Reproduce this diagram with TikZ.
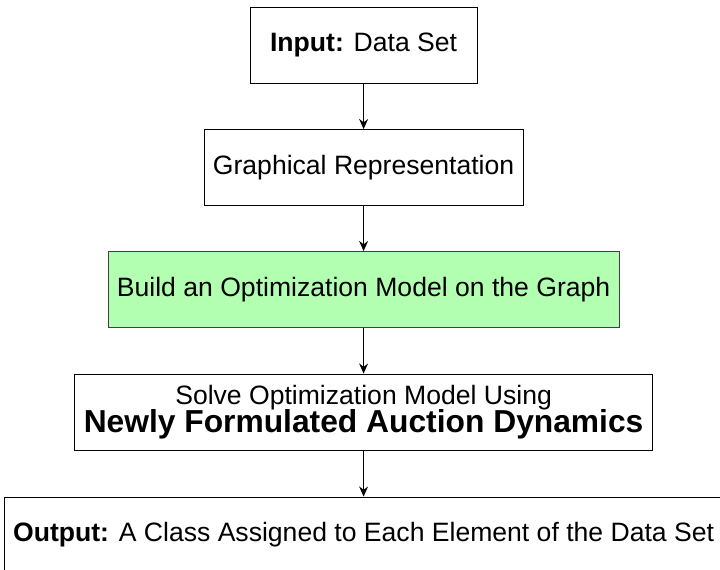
\documentclass[tikz,border=0pt]{standalone}
\usepackage{fontspec}
\setmainfont{Liberation Sans}
\usetikzlibrary{arrows.meta}

\begin{document}
\begin{tikzpicture}
  \tikzstyle{stage}=[rectangle, draw=black, line width=0.6pt, minimum height=1.9cm,
                     align=center, font=\fontsize{18.9}{22}\selectfont]
  \tikzstyle{flow}=[-{Stealth[length=0.25cm, width=0.22cm]}, line width=1.2pt]
  \useasboundingbox (0,0) rectangle (18,14.25);

  \node[stage, minimum width=5.675cm] (input) at (9.09,13.125) {\textbf{Input:} Data Set};
  \node[stage, minimum width=7.975cm] (graph) at (9.09,10.0625) {Graphical Representation};
  \node[stage, minimum width=12.775cm, fill=green!30, draw=black!75] (model) at (9.09,7.0125)
       {Build an Optimization Model on the Graph};
  \node[stage, minimum width=14.45cm, inner sep=1pt] (solve) at (9.09,3.95)
       {Solve Optimization Model Using\\[-2pt]
        {\fontsize{22.6}{25}\selectfont\bfseries Newly Formulated Auction Dynamics}};
  \node[stage, minimum width=17.95cm] (output) at (9.09,0.875)
       {\textbf{Output:} A Class Assigned to Each Element of the Data Set};

  \draw[flow] (input) -- (graph);
  \draw[flow] (graph) -- (model);
  \draw[flow] (model) -- (solve);
  \draw[flow] (solve) -- (output);
\end{tikzpicture}
\end{document}
